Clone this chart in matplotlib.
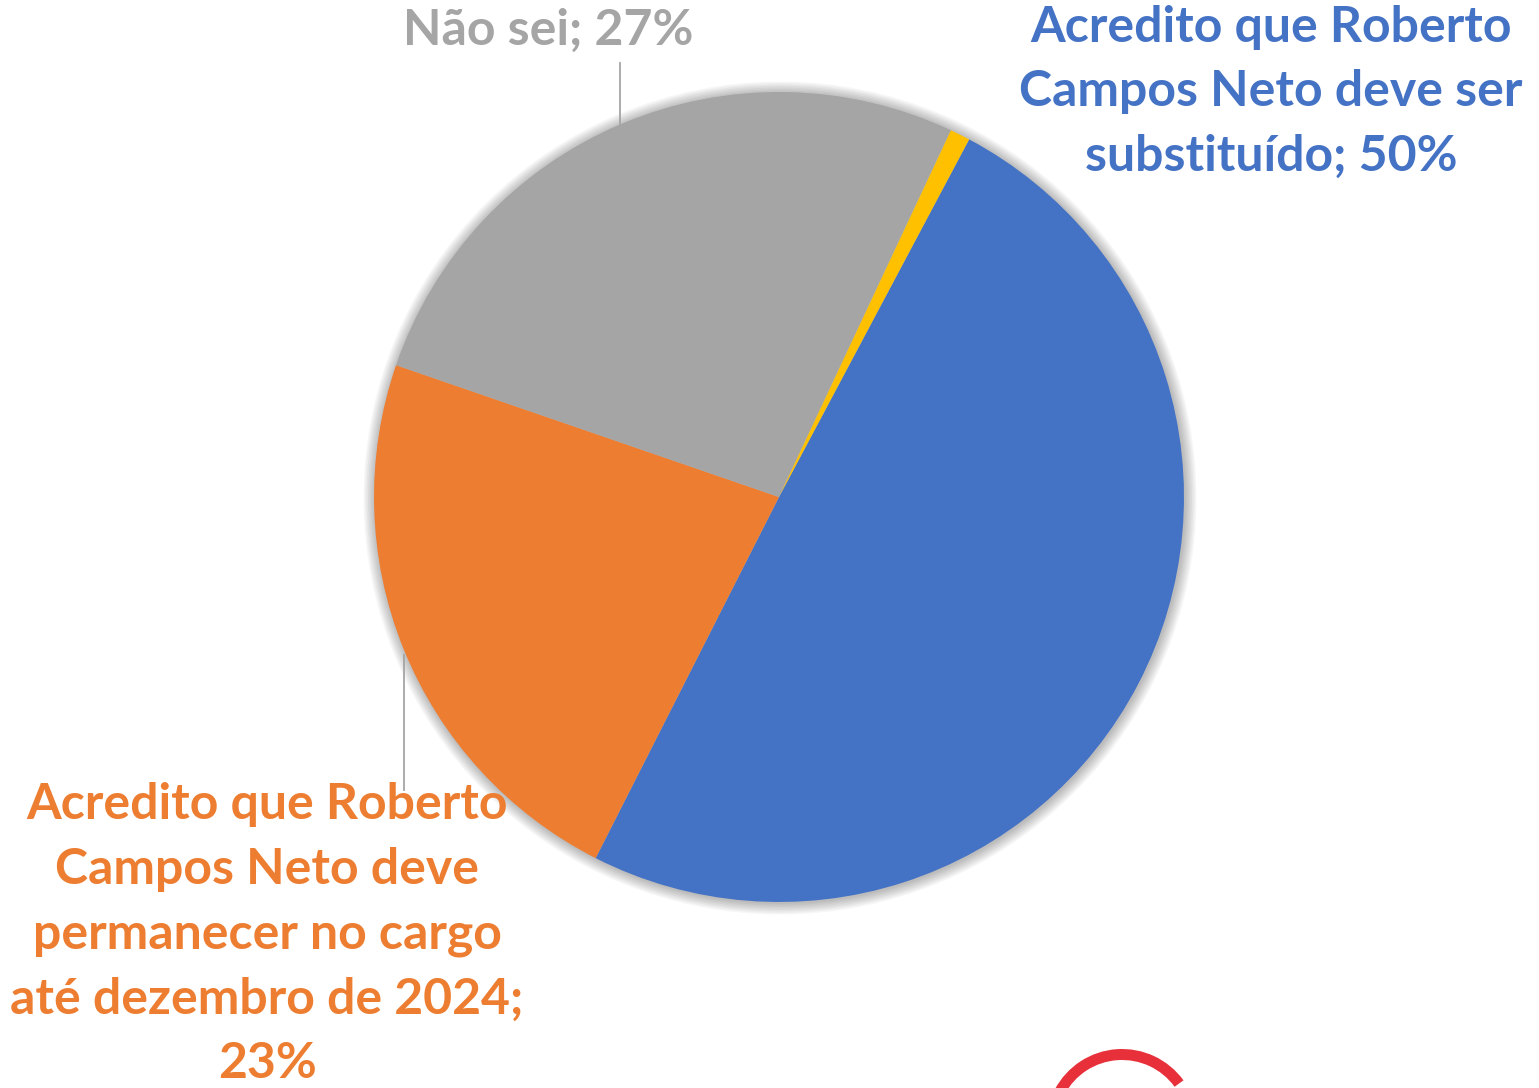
import matplotlib
matplotlib.use("Agg")
import matplotlib.pyplot as plt
from matplotlib.patches import Circle, Wedge

# slice values (percent), drawn clockwise starting from the blue one
labels = ["Acredito que Roberto\nCampos Neto deve ser\nsubstituído; 50%",
          "Acredito que Roberto\nCampos Neto deve\npermanecer no cargo\naté dezembro de 2024;\n23%",
          "Não sei; 27%",
          ""]
values = [49.7, 22.8, 26.7, 0.8]
colors = ["#4472C4", "#ED7D31", "#A5A5A5", "#FFC000"]

W, H = 1539, 1088
fig = plt.figure(figsize=(W / 100, H / 100), dpi=100)
ax = fig.add_axes([0, 0, 1, 1])

cx, cy, r = 779, H - 497, 405

# soft shadow round the pie
for i in range(8):
    ax.add_patch(Circle((cx + 1, cy - 1), r + 1 + i * 1.5, color="black",
                        alpha=0.035, lw=0, zorder=0))

ax.pie(values, colors=colors, startangle=62, counterclock=False,
       center=(cx, cy), radius=r, frame=True,
       wedgeprops=dict(linewidth=0, zorder=2))
ax.set_xlim(0, W)
ax.set_ylim(0, H)
ax.set_aspect("equal")
ax.axis("off")

font = dict(family=["Lato", "DejaVu Sans"], fontweight="bold", fontsize=36,
            ha="center", va="center", linespacing=1.53)

ax.text(1271, H - 92, labels[0], color=colors[0], **font)
ax.text(548, H - 30, labels[2], color=colors[2], **font)
ax.text(267, H - 934, labels[1], color=colors[1], **font)

# leader lines
ax.plot([620, 620], [H - 63, H - 125], color="#A5A5A5", lw=1.3, zorder=1)
ax.plot([404, 404], [H - 655, H - 790], color="#A5A5A5", lw=1.3, zorder=1)

# logo fragment at the bottom
ax.add_patch(Wedge((1122, H - 1125), 76, 36, 152, width=11, color="#E8303A", lw=0))

fig.savefig("out.png", dpi=100, facecolor="white")
